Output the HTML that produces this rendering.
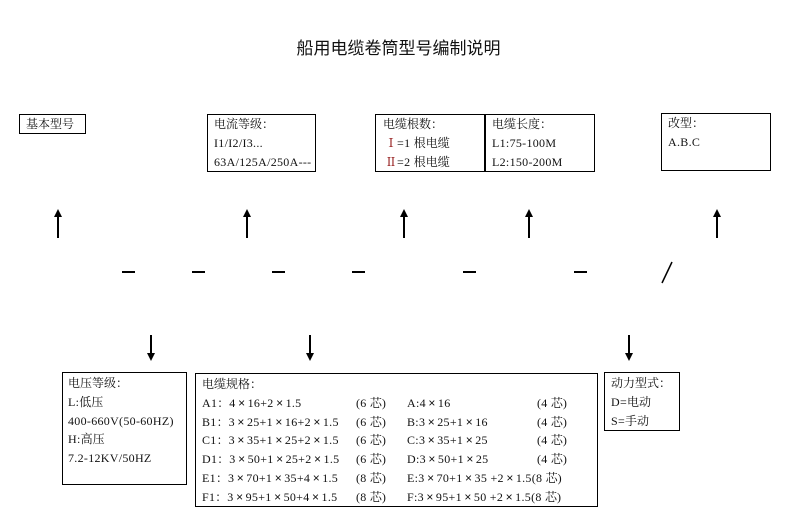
<!DOCTYPE html>
<html><head><meta charset="utf-8"><style>
body{margin:0;width:797px;height:530px;background:#fff;position:relative;font-family:"Liberation Serif","Noto Serif CJK SC",serif;color:#111;overflow:hidden}
.b{position:absolute;border:1.5px solid #000;box-sizing:border-box}
.t{position:absolute;font-size:12px;white-space:nowrap;line-height:12px;letter-spacing:0.3px}
.c{font-family:"Noto Serif CJK SC","Noto Sans CJK SC",serif;font-size:12px;letter-spacing:0}
.x{display:inline-block;width:12px;text-align:center;font-family:"Liberation Sans",sans-serif;font-size:12px;letter-spacing:0}
.d{position:absolute;height:1.5px;background:#000;width:13px;top:271px}
</style></head><body>
<div class="t" style="left:0;width:797px;text-align:center;top:38px;font-size:17px;line-height:18px;letter-spacing:0;font-family:'Noto Sans CJK SC',sans-serif">船用电缆卷筒型号编制说明</div>

<div class="b" style="left:19px;top:114px;width:67px;height:20px"></div>
<div class="t" style="left:26px;top:118px"><span class="c">基本型号</span></div>

<div class="b" style="left:207px;top:114px;width:109px;height:58px"></div>
<div class="t" style="left:214px;top:118px"><span class="c">电流等级：</span></div>
<div class="t" style="left:214px;top:137px">I1/I2/I3...</div>
<div class="t" style="left:214px;top:156px">63A/125A/250A---</div>

<div class="b" style="left:375px;top:114px;width:220px;height:58px"></div>
<div style="position:absolute;left:484px;top:114px;width:1.5px;height:58px;background:#000"></div>
<div class="t" style="left:383px;top:118px"><span class="c">电缆根数：</span></div>
<div class="t" style="left:385px;top:137px"><span class="c" style="color:#800">Ⅰ</span>=1 <span class="c">根电缆</span></div>
<div class="t" style="left:385px;top:156px"><span class="c" style="color:#800">Ⅱ</span>=2 <span class="c">根电缆</span></div>
<div class="t" style="left:492px;top:118px"><span class="c">电缆长度：</span></div>
<div class="t" style="left:492px;top:137px">L1:75-100M</div>
<div class="t" style="left:492px;top:156px">L2:150-200M</div>

<div class="b" style="left:661px;top:113px;width:110px;height:58px"></div>
<div class="t" style="left:668px;top:117px"><span class="c">改型：</span></div>
<div class="t" style="left:668px;top:136px">A.B.C</div>

<svg style="position:absolute;left:0;top:0" width="797" height="530">
<defs><marker id="a" markerWidth="8" markerHeight="8" refX="4" refY="4" orient="auto" markerUnits="userSpaceOnUse"><path d="M0,0 L8,4 L0,8 z" fill="#000"/></marker></defs>
<g stroke="#000" stroke-width="2">
<line x1="58" y1="238" x2="58" y2="213" marker-end="url(#a)"/>
<line x1="247" y1="238" x2="247" y2="213" marker-end="url(#a)"/>
<line x1="404" y1="238" x2="404" y2="213" marker-end="url(#a)"/>
<line x1="529" y1="238" x2="529" y2="213" marker-end="url(#a)"/>
<line x1="717" y1="238" x2="717" y2="213" marker-end="url(#a)"/>
<line x1="151" y1="335" x2="151" y2="357" marker-end="url(#a)"/>
<line x1="310" y1="335" x2="310" y2="357" marker-end="url(#a)"/>
<line x1="629" y1="335" x2="629" y2="357" marker-end="url(#a)"/>
<line x1="672" y1="262" x2="662" y2="283" stroke-width="1.5"/>
</g></svg>
<div class="d" style="left:122px"></div><div class="d" style="left:192px"></div>
<div class="d" style="left:272px"></div><div class="d" style="left:352px"></div>
<div class="d" style="left:463px"></div><div class="d" style="left:574px"></div>

<div class="b" style="left:62px;top:372px;width:125px;height:113px"></div>
<div class="t" style="left:68px;top:377px"><span class="c">电压等级：</span></div>
<div class="t" style="left:68px;top:396px">L:<span class="c">低压</span></div>
<div class="t" style="left:68px;top:415px">400-660V(50-60HZ)</div>
<div class="t" style="left:68px;top:433px">H:<span class="c">高压</span></div>
<div class="t" style="left:68px;top:452px">7.2-12KV/50HZ</div>

<div class="b" style="left:195px;top:373px;width:403px;height:134px"></div>
<div class="t" style="left:202px;top:378px"><span class="c">电缆规格：</span></div>
<div class="t" style="left:202px;top:397px">A1<span class="c">：</span>4<span class="x">×</span>16+2<span class="x">×</span>1.5</div>
<div class="t" style="left:202px;top:416px">B1<span class="c">：</span>3<span class="x">×</span>25+1<span class="x">×</span>16+2<span class="x">×</span>1.5</div>
<div class="t" style="left:202px;top:434px">C1<span class="c">：</span>3<span class="x">×</span>35+1<span class="x">×</span>25+2<span class="x">×</span>1.5</div>
<div class="t" style="left:202px;top:453px">D1<span class="c">：</span>3<span class="x">×</span>50+1<span class="x">×</span>25+2<span class="x">×</span>1.5</div>
<div class="t" style="left:202px;top:472px">E1<span class="c">：</span>3<span class="x">×</span>70+1<span class="x">×</span>35+4<span class="x">×</span>1.5</div>
<div class="t" style="left:202px;top:491px">F1<span class="c">：</span>3<span class="x">×</span>95+1<span class="x">×</span>50+4<span class="x">×</span>1.5</div>
<div class="t" style="left:356px;top:397px">(6 <span class="c">芯</span>)</div>
<div class="t" style="left:356px;top:416px">(6 <span class="c">芯</span>)</div>
<div class="t" style="left:356px;top:434px">(6 <span class="c">芯</span>)</div>
<div class="t" style="left:356px;top:453px">(6 <span class="c">芯</span>)</div>
<div class="t" style="left:356px;top:472px">(8 <span class="c">芯</span>)</div>
<div class="t" style="left:356px;top:491px">(8 <span class="c">芯</span>)</div>
<div class="t" style="left:407px;top:397px">A:4<span class="x">×</span>16</div>
<div class="t" style="left:407px;top:416px">B:3<span class="x">×</span>25+1<span class="x">×</span>16</div>
<div class="t" style="left:407px;top:434px">C:3<span class="x">×</span>35+1<span class="x">×</span>25</div>
<div class="t" style="left:407px;top:453px">D:3<span class="x">×</span>50+1<span class="x">×</span>25</div>
<div class="t" style="left:407px;top:472px">E:3<span class="x">×</span>70+1<span class="x">×</span>35 +2<span class="x">×</span>1.5(8 <span class="c">芯</span>)</div>
<div class="t" style="left:407px;top:491px">F:3<span class="x">×</span>95+1<span class="x">×</span>50 +2<span class="x">×</span>1.5(8 <span class="c">芯</span>)</div>
<div class="t" style="left:537px;top:397px">(4 <span class="c">芯</span>)</div>
<div class="t" style="left:537px;top:416px">(4 <span class="c">芯</span>)</div>
<div class="t" style="left:537px;top:434px">(4 <span class="c">芯</span>)</div>
<div class="t" style="left:537px;top:453px">(4 <span class="c">芯</span>)</div>

<div class="b" style="left:604px;top:372px;width:76px;height:59px"></div>
<div class="t" style="left:611px;top:377px"><span class="c">动力型式：</span></div>
<div class="t" style="left:611px;top:396px">D=<span class="c">电动</span></div>
<div class="t" style="left:611px;top:415px">S=<span class="c">手动</span></div>
</body></html>
